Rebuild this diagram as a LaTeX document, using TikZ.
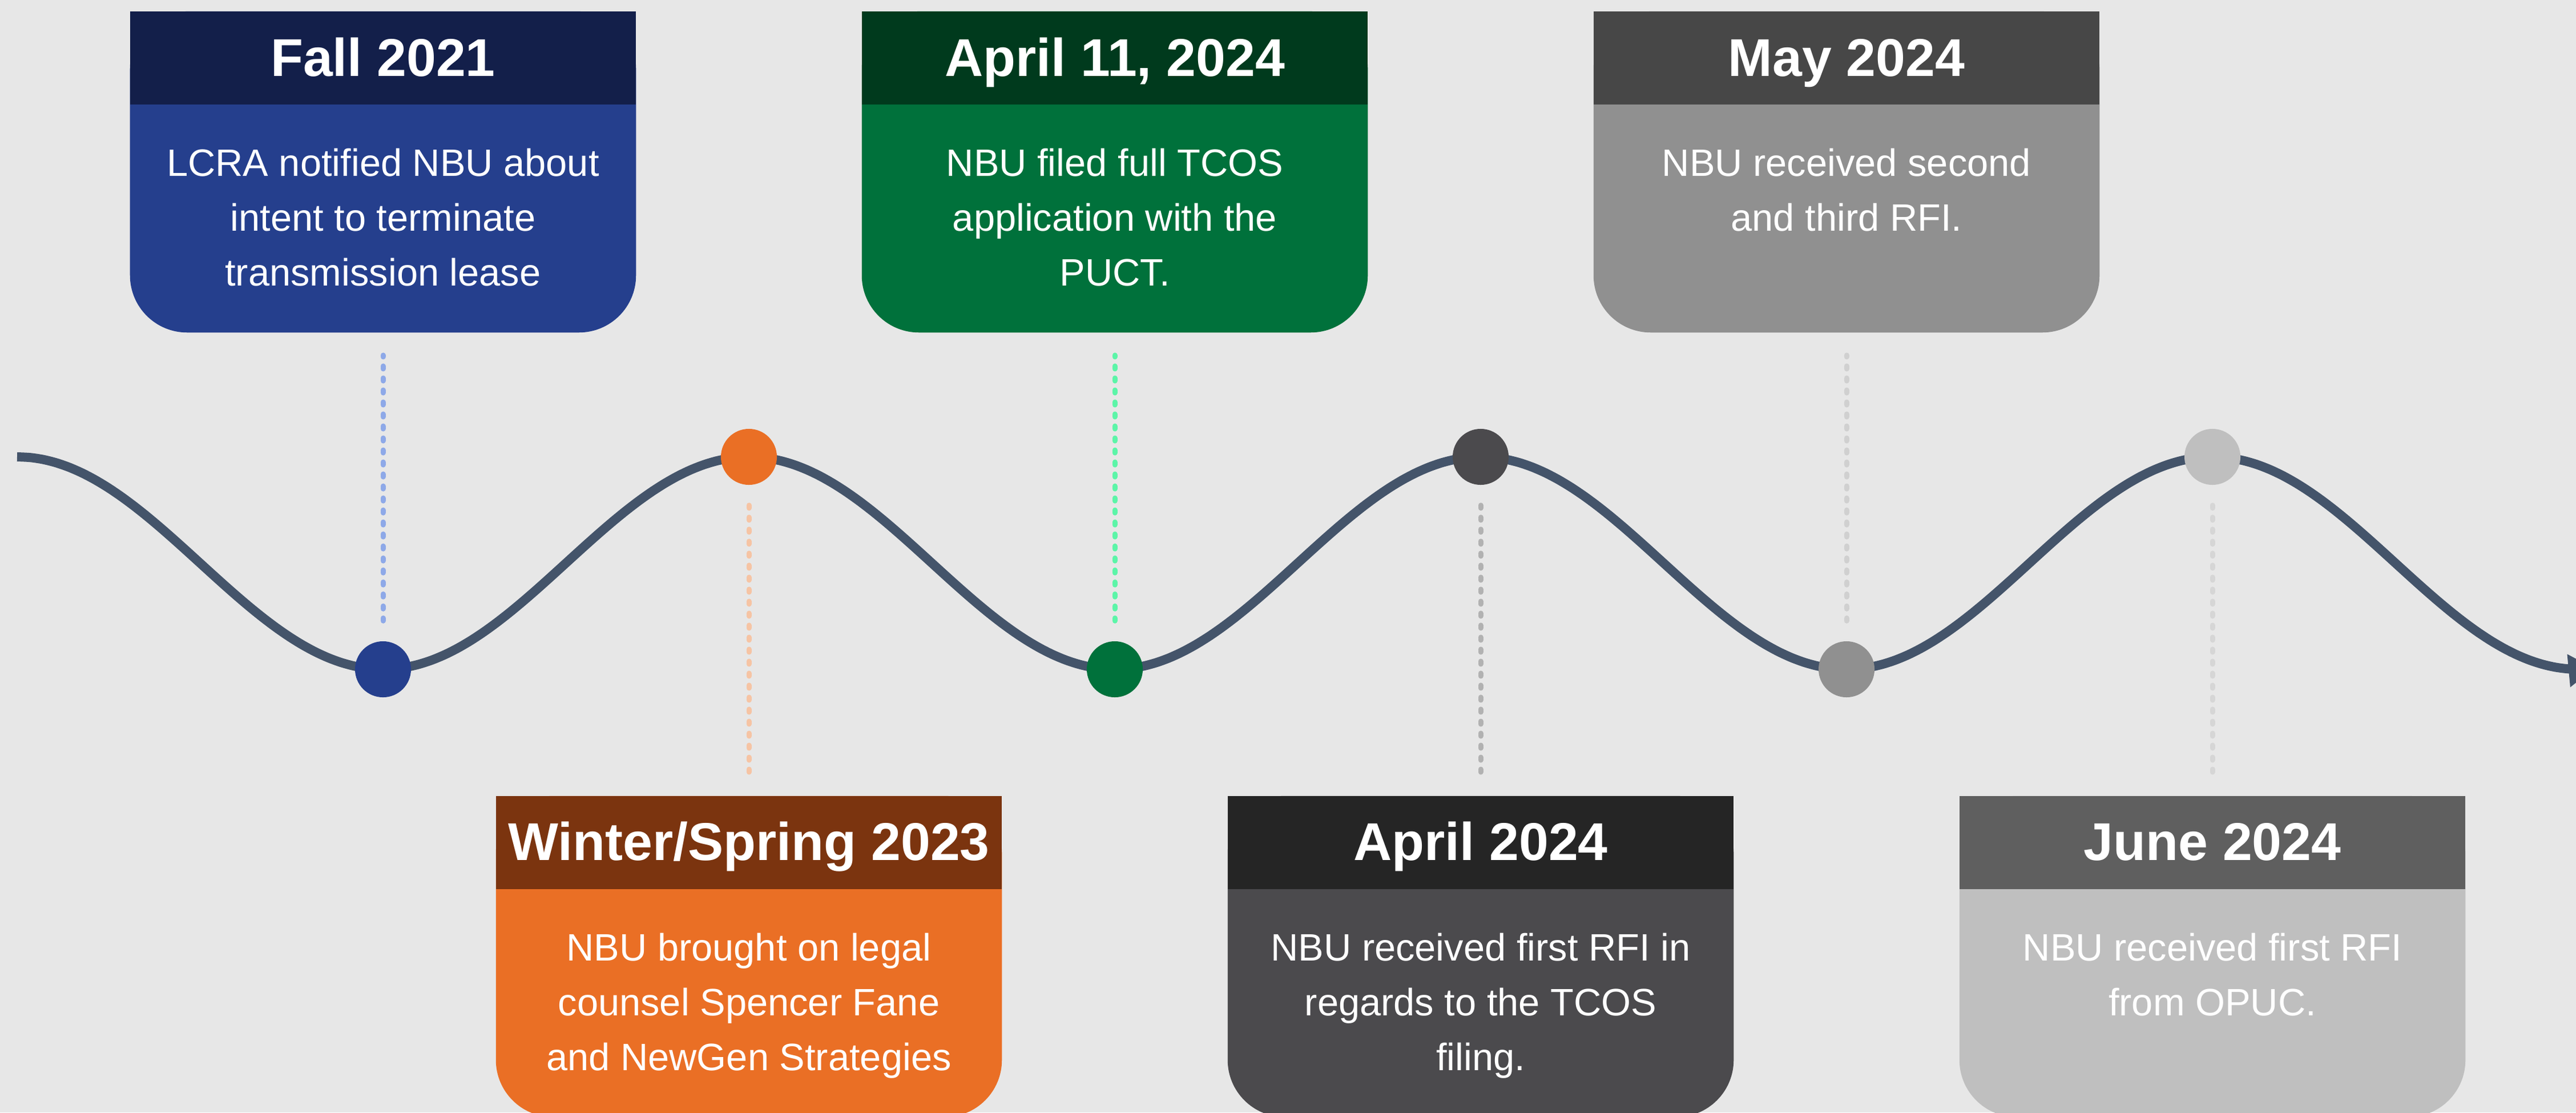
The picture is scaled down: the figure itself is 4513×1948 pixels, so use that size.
\documentclass[tikz,border=0pt]{standalone}
\usepackage{fontspec}
\setmainfont{Liberation Sans}
\usetikzlibrary{arrows.meta,positioning}

\definecolor{bg}{HTML}{E7E7E7}
\definecolor{wave}{HTML}{44546A}
\definecolor{navyD}{HTML}{131F4A}
\definecolor{navyL}{HTML}{253F8D}
\definecolor{navyS}{HTML}{8EA9E8}
\definecolor{orangeD}{HTML}{7B340F}
\definecolor{orangeL}{HTML}{EA6F25}
\definecolor{orangeS}{HTML}{F6C4A4}
\definecolor{greenD}{HTML}{003A1D}
\definecolor{greenL}{HTML}{00713B}
\definecolor{greenS}{HTML}{5CF5A8}
\definecolor{coalD}{HTML}{252525}
\definecolor{coalL}{HTML}{4B4A4D}
\definecolor{coalS}{HTML}{B2B2B2}
\definecolor{greyD}{HTML}{474747}
\definecolor{greyL}{HTML}{909090}
\definecolor{greyS}{HTML}{D0D0D0}
\definecolor{silverD}{HTML}{5F5F5F}
\definecolor{silverL}{HTML}{BFBFBF}
\definecolor{silverS}{HTML}{D6D6D6}

\begin{document}
\begin{tikzpicture}[x=0.01cm,y=-0.01cm,>={Triangle[length=0.45cm,width=0.55cm]}]
        \tikzset{card/.style={rectangle, rounded corners=1cm, inner sep=0pt, minimum width=8.86cm, minimum height=5.62cm},
        head/.style={rectangle, inner sep=0pt, minimum width=8.86cm, minimum height=1.63cm, text=white,
                font=\fontsize{26.5}{30}\selectfont\bfseries, text height=0.8cm, text depth=0.17cm},
        note/.style={align=center, inner sep=0pt, text=white, font=\fontsize{19}{27.2}\selectfont},
        dot/.style={circle, inner sep=0pt, minimum size=0.98cm},
        stem/.style={line width=0.09cm, line cap=round, dash pattern=on 0.05cm off 0.16cm, shorten <=0.35cm, shorten >=0.39cm},
        }
        \fill[bg] (0,0) rectangle (4513,1948);
        \useasboundingbox (0,0) rectangle (4513,1948);

%% timeline
        \draw[wave, line width=0.16cm, ->] plot[smooth, domain=30:4545, samples=200] (\x,{986-186*cos((\x-30)/641*180)});

%% dots on the timeline
        \node [dot, fill=navyL]   (fall)    at (671,1172) {};
        \node [dot, fill=orangeL] (winter)  at (1312,800) {};
        \node [dot, fill=greenL]  (filed)   at (1953,1172) {};
        \node [dot, fill=coalL]   (april)   at (2594,800) {};
        \node [dot, fill=greyL]   (may)     at (3235,1172) {};
        \node [dot, fill=silverL] (june)    at (3876,800) {};

%% cards
        \node [card, fill=navyL, above=5.39cm of fall] (fallcard) {};
        \node [head, fill=navyD, anchor=north] (fallhead) at (fallcard.north) {Fall 2021};
        \node [note, below=0.76cm of fallhead] (falltext) {LCRA notified NBU about\\intent to terminate\\transmission lease};

        \node [card, fill=orangeL, below=5.43cm of winter] (wintercard) {};
        \node [head, fill=orangeD, anchor=north] (winterhead) at (wintercard.north) {Winter/Spring 2023};
        \node [note, below=0.76cm of winterhead] (wintertext) {NBU brought on legal\\counsel Spencer Fane\\and NewGen Strategies};

        \node [card, fill=greenL, above=5.39cm of filed] (filedcard) {};
        \node [head, fill=greenD, anchor=north] (filedhead) at (filedcard.north) {April 11, 2024};
        \node [note, below=0.76cm of filedhead] (filedtext) {NBU filed full TCOS\\application with the\\PUCT.};

        \node [card, fill=coalL, below=5.43cm of april] (aprilcard) {};
        \node [head, fill=coalD, anchor=north] (aprilhead) at (aprilcard.north) {April 2024};
        \node [note, below=0.76cm of aprilhead] (apriltext) {NBU received first RFI in\\regards to the TCOS\\filing.};

        \node [card, fill=greyL, above=5.39cm of may] (maycard) {};
        \node [head, fill=greyD, anchor=north] (mayhead) at (maycard.north) {May 2024};
        \node [note, below=0.76cm of mayhead] (maytext) {NBU received second\\and third RFI.};

        \node [card, fill=silverL, below=5.43cm of june] (junecard) {};
        \node [head, fill=silverD, anchor=north] (junehead) at (junecard.north) {June 2024};
        \node [note, below=0.76cm of junehead] (junetext) {NBU received first RFI\\from OPUC.};

%% dashed stems
        \draw[stem, draw=navyS]   (fall) -- (fallcard);
        \draw[stem, draw=orangeS] (winter) -- (wintercard);
        \draw[stem, draw=greenS]  (filed) -- (filedcard);
        \draw[stem, draw=coalS]   (april) -- (aprilcard);
        \draw[stem, draw=greyS]   (may) -- (maycard);
        \draw[stem, draw=silverS] (june) -- (junecard);
    \end{tikzpicture}
\end{document}
